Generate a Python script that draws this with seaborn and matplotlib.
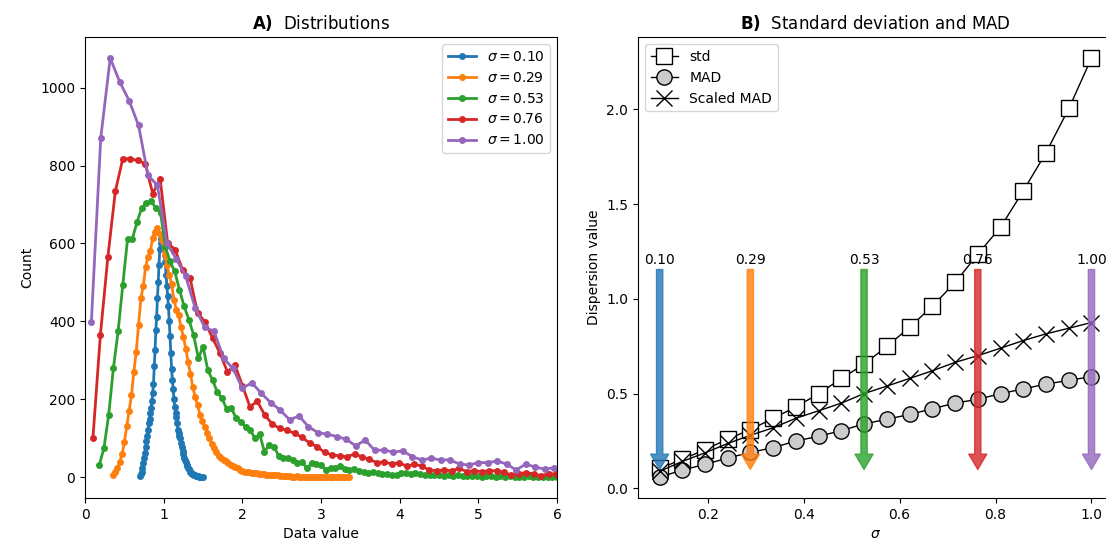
import matplotlib
matplotlib.use("Agg")
import matplotlib.pyplot as plt
import seaborn as sns
import numpy as np

# ---- panel A: histogram counts per sigma (bin range lo..hi, evenly spaced bins)
sigmas = [0.10, 0.29, 0.53, 0.76, 1.00]
bin_lo = [0.70, 0.35, 0.18, 0.10, 0.08]
bin_hi = [1.50, 3.35, 6.06, 6.085, 6.08]

counts_010 = [
    3, 8, 14, 22, 35, 48, 62, 76, 92, 106,
    121, 138, 150, 165, 178, 195, 215, 240, 285, 325,
    378, 410, 460, 500, 545, 585, 600, 612, 605, 598,
    590, 570, 552, 520, 490, 465, 438, 400, 362, 318,
    278, 250, 225, 200, 180, 165, 155, 138, 122, 112,
    106, 100, 88, 76, 68, 60, 50, 44, 38, 32,
    28, 24, 20, 16, 13, 11, 9, 7, 6, 5,
    4, 3, 3, 2, 2, 1, 1, 1, 0, 1,
    0,
]
counts_029 = [
    5, 12, 22, 38, 58, 90, 130, 170, 210, 270,
    320, 390, 460, 490, 540, 565, 580, 615, 630, 640,
    625, 610, 570, 545, 520, 495, 455, 430, 415, 385,
    360, 330, 295, 265, 230, 205, 185, 160, 145, 128,
    113, 100, 85, 75, 65, 55, 50, 44, 40, 36,
    32, 28, 26, 22, 18, 16, 14, 13, 12, 11,
    10, 10, 9, 8, 7, 6, 6, 5, 5, 4,
    4, 3, 3, 2, 2, 2, 1, 1, 2, 1,
    1, 0, 1, 0, 1, 0, 0, 1, 0, 0,
    0, 1, 0, 0, 0, 0, 0, 0, 0, 0,
    1,
]
counts_053 = [
    30, 74, 159, 279, 374, 494, 611, 611, 654, 691,
    704, 708, 691, 678, 592, 554, 528, 481, 438, 404,
    365, 305, 335, 275, 249, 219, 202, 175, 177, 151,
    142, 129, 121, 99, 110, 65, 82, 78, 55, 50,
    48, 44, 35, 39, 22, 35, 33, 31, 18, 24,
    24, 27, 20, 18, 20, 16, 14, 10, 12, 11,
    9, 8, 6, 5, 10, 11, 9, 10, 8, 5,
    6, 4, 5, 3, 4, 3, 4, 2, 3, 2,
    3, 1, 2, 3, 1, 2, 1, 2, 1, 0,
    1, 2, 0, 1, 0, 1, 0, 1, 0,
]
counts_076 = [
    100, 365, 565, 734, 818, 817, 813, 805, 728, 765,
    601, 584, 532, 511, 421, 399, 357, 318, 270, 288,
    235, 181, 194, 159, 136, 125, 120, 112, 102, 87,
    78, 63, 57, 54, 52, 59, 52, 45, 37, 39,
    33, 37, 27, 33, 28, 18, 16, 18, 16, 22,
    14, 16, 14, 16, 16, 12, 5, 9, 11, 8,
    3, 9, 7, 6,
]
counts_100 = [
    397, 872, 1076, 1015, 967, 903, 775, 749, 600, 560,
    515, 434, 385, 374, 305, 279, 228, 242, 215, 191,
    172, 147, 157, 129, 114, 110, 104, 97, 80, 95,
    69, 69, 64, 67, 52, 44, 48, 44, 44, 33,
    31, 37, 37, 41, 33, 18, 33, 26, 20, 24,
    22,
]
all_counts = [counts_010, counts_029, counts_053, counts_076, counts_100]

# ---- panel B: dispersion vs sigma
sigma_grid = [0.100, 0.147, 0.195, 0.242, 0.289, 0.337, 0.384, 0.432, 0.479, 0.526,
              0.574, 0.621, 0.668, 0.716, 0.763, 0.811, 0.858, 0.905, 0.953, 1.000]
std_vals = [0.105, 0.153, 0.205, 0.26, 0.31, 0.37, 0.43, 0.50, 0.58, 0.655,
            0.75, 0.85, 0.96, 1.087, 1.235, 1.38, 1.57, 1.77, 2.005, 2.27]
mad_vals = [0.06, 0.096, 0.127, 0.16, 0.19, 0.215, 0.25, 0.275, 0.305, 0.34,
            0.365, 0.39, 0.42, 0.45, 0.47, 0.50, 0.525, 0.55, 0.57, 0.59]
scaled_mad_vals = [0.09, 0.142, 0.188, 0.237, 0.28, 0.32, 0.37, 0.41, 0.45, 0.50,
                   0.54, 0.58, 0.62, 0.665, 0.70, 0.74, 0.78, 0.815, 0.845, 0.875]
arrow_sigmas = [0.100, 0.289, 0.526, 0.763, 1.000]
arrow_labels = ['0.10', '0.29', '0.53', '0.76', '1.00']

colors = sns.color_palette('tab10')[:5]

fig = plt.figure(figsize=(11.06, 5.46), dpi=100)
ax1 = fig.add_axes([0.0769, 0.088, 0.4268, 0.844])
ax2 = fig.add_axes([0.5769, 0.088, 0.4295, 0.844])

for s, lo, hi, cnt, c in zip(sigmas, bin_lo, bin_hi, all_counts, colors):
    xs = np.linspace(lo, hi, len(cnt))
    sns.lineplot(x=xs, y=cnt, ax=ax1, color=c, linewidth=2, marker='o',
                 markersize=5, markeredgewidth=0, markeredgecolor=c,
                 label=r'$\sigma = %.2f$' % s)
ax1.set_xlim(0, 6)
ax1.set_xlabel('Data value')
ax1.set_ylabel('Count')
ax1.set_title(r'$\bf{A)}$  Distributions')
ax1.legend(loc='upper right')

sns.lineplot(x=sigma_grid, y=std_vals, ax=ax2, color='k', linewidth=1, marker='s',
             markersize=11, markerfacecolor='w', markeredgecolor='k',
             markeredgewidth=1, label='std')
sns.lineplot(x=sigma_grid, y=mad_vals, ax=ax2, color='k', linewidth=1, marker='o',
             markersize=11, markerfacecolor='0.8', markeredgecolor='k',
             markeredgewidth=1, label='MAD')
sns.lineplot(x=sigma_grid, y=scaled_mad_vals, ax=ax2, color='k', linewidth=1, marker='x',
             markersize=11, markeredgecolor='k', markeredgewidth=1, label='Scaled MAD')

for s, lab, c in zip(arrow_sigmas, arrow_labels, colors):
    ax2.annotate(lab, xy=(s, 0.1), xytext=(s, 1.185), ha='center',
                 arrowprops=dict(color=c, alpha=0.8, width=4.5, headwidth=13,
                                 headlength=11))

ax2.set_xlabel(r'$\sigma$')
ax2.set_ylabel('Dispersion value')
ax2.set_title(r'$\bf{B)}$  Standard deviation and MAD')
ax2.legend(loc='upper left')

fig.savefig('out.png', dpi=100)
